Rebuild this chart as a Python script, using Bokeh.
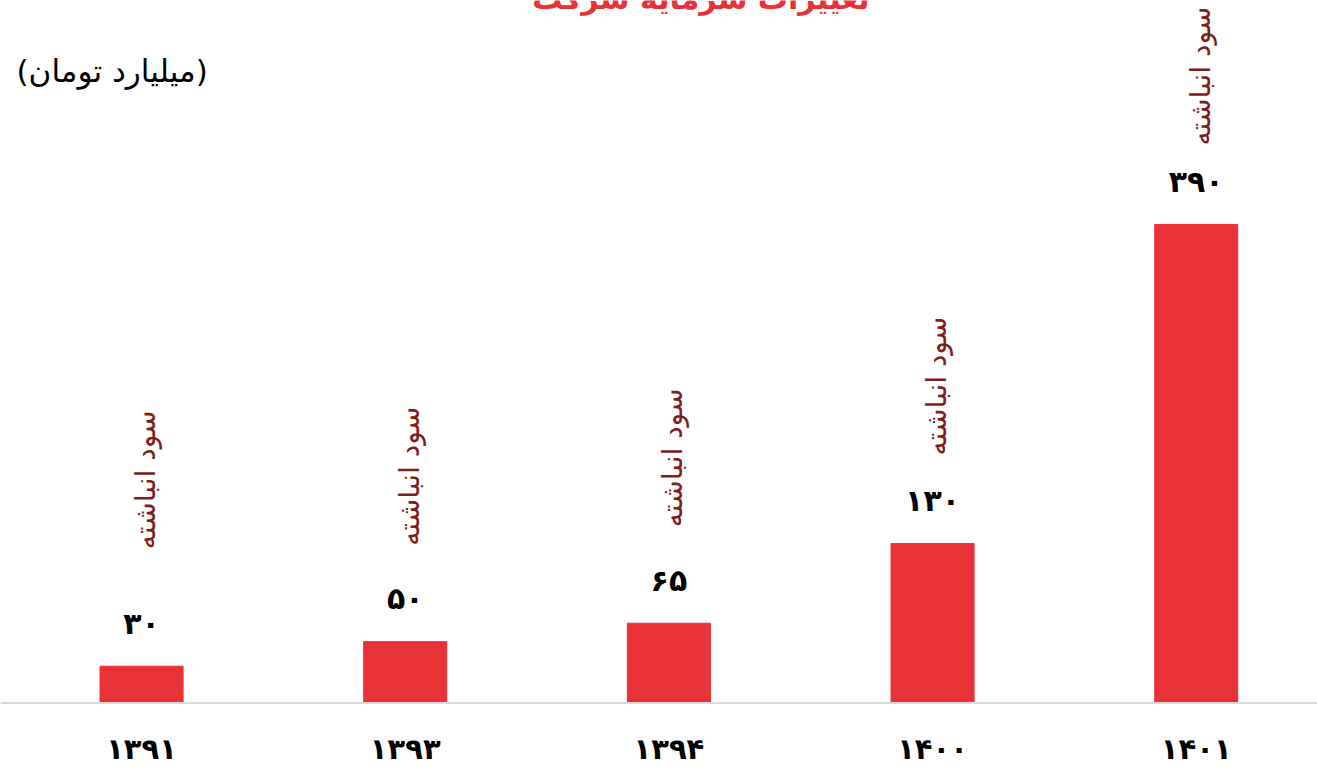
from bokeh.plotting import figure
from bokeh.models import Range1d, ColumnDataSource
from bokeh.core.properties import value
from bokeh.embed import file_html
from bokeh.resources import INLINE

# ---- data ----
years = ["1391", "1393", "1394", "1400", "1401"]
capital = [30, 50, 65, 130, 390]
note_text = "سود انباشته"
title_text = "تغییرات سرمایه شرکت"
unit_text = "(میلیارد تومان)"

# ---- style / positions ----
note_gap = [117, 96, 96, 88, 79]   # px above bar top where the rotated note starts
FA = str.maketrans("0123456789", "۰۱۲۳۴۵۶۷۸۹")
BAR = "#E83237"
NOTE = "#7F1D1D"
FONT = "DejaVu Sans"
X0, X1 = -0.535, 4.46
Y0, Y1 = -55.0, 572.5

xs = list(range(len(years)))
src = ColumnDataSource(dict(
    x=xs,
    top=capital,
    year=[y.translate(FA) for y in years],
    val=[str(v).translate(FA) for v in capital],
    note=[note_text] * len(years),
    gap=[-g for g in note_gap],
))

p = figure(width=1317, height=770, output_backend="svg", toolbar_location=None,
           x_range=Range1d(X0, X1), y_range=Range1d(Y0, Y1),
           min_border_left=0, min_border_right=0, min_border_top=0, min_border_bottom=0,
           x_axis_type=None, y_axis_type=None)
p.outline_line_color = None
p.grid.visible = False
p.background_fill_color = "white"
p.border_fill_color = "white"

p.vbar(x="x", top="top", bottom=0, width=0.315, color=BAR, source=src)
p.segment(x0=[X0], x1=[X1], y0=[0], y1=[0], line_color="#D9D9D9", line_width=2)

# value labels
p.text(x="x", y="top", text="val", source=src, text_align="center", text_baseline="middle",
       y_offset=-43, text_font=value(FONT), text_font_size="30px", text_font_style="bold",
       text_color="black")
# year labels
p.text(x="x", y=0, text="year", source=src, text_align="center", text_baseline="middle",
       y_offset=46, text_font=value(FONT), text_font_size="29px", text_font_style="bold",
       text_color="black")
# rotated notes
p.text(x="x", y="top", text="note", source=src, angle=1.5708, text_align="left",
       text_baseline="middle", y_offset="gap", x_offset=4, text_font=value(FONT),
       text_font_size="28px", text_color=NOTE)

# title (cut off at top)
p.text(x=[2], y=[Y1], text=[title_text], text_align="center", text_baseline="alphabetic",
       x_offset=32, y_offset=-2, text_font=value(FONT), text_font_size="30px",
       text_font_style="bold", text_color=BAR)
# unit label
p.text(x=[X0], y=[Y1], text=[unit_text], text_align="left", text_baseline="middle",
       x_offset=16, y_offset=70, text_font=value(FONT), text_font_size="31px",
       text_color="black")

open("out.html", "w").write(file_html(p, INLINE))
